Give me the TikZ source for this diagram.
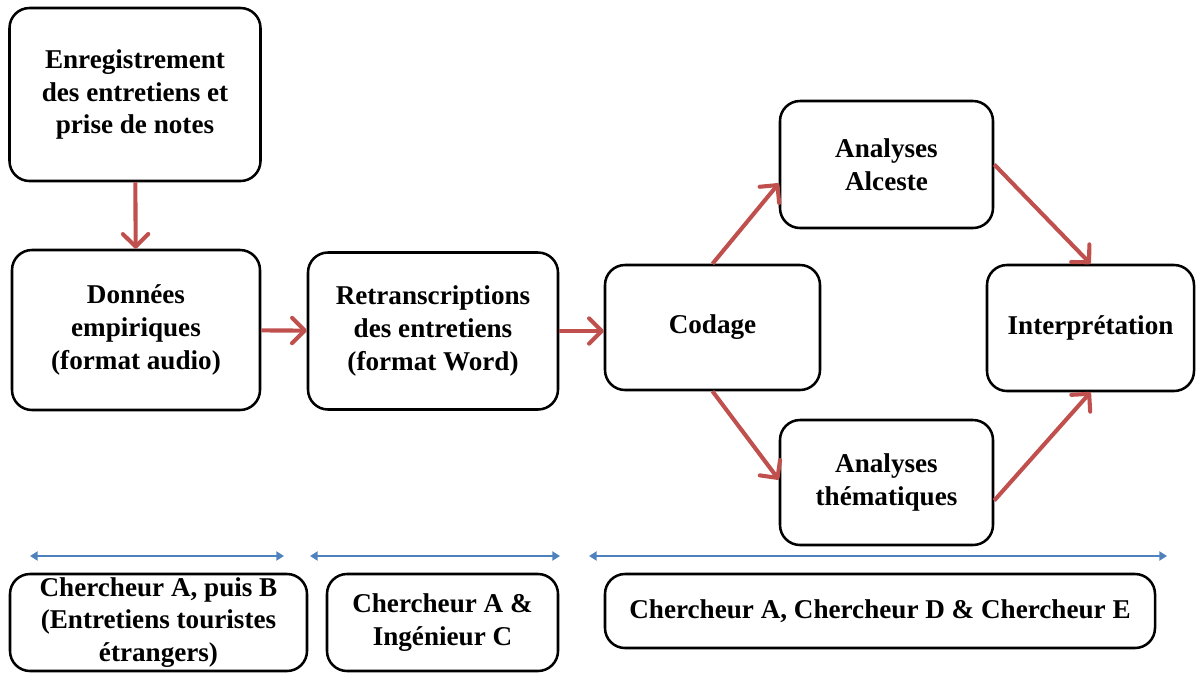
\documentclass[tikz,border=0pt]{standalone}
\usepackage{fontspec}
\setmainfont{Liberation Serif}
\usetikzlibrary{arrows.meta,calc}
\definecolor{flowred}{RGB}{192,80,77}
\definecolor{spanblue}{RGB}{79,129,189}
\tikzset{
  stepbox/.style 2 args={draw=black, line width=1.8pt, rounded corners=0.5cm,
    minimum width=#1*0.025cm, minimum height=#2*0.025cm, inner sep=0pt,
    align=center, font=\fontsize{19.3}{23.4}\selectfont\bfseries},
  flow/.style={draw=flowred, line width=2.9pt,
    -{Straight Barb[length=9pt,width=18pt,round]}},
  span/.style={draw=spanblue, line width=1.5pt,
    {Triangle[length=5.5pt,width=6.5pt]}-{Triangle[length=5.5pt,width=6.5pt]}}
}
\begin{document}
\begin{tikzpicture}[x=0.025cm, y=-0.025cm]
			%%%%% START %%%%%
			\useasboundingbox (0, 0) rectangle (1196, 673);
			
			\node[stepbox={251}{173}] (enreg) at (135, 94.5) {Enregistrement\\des entretiens et\\prise de notes};
			\node[stepbox={248}{160}] (donnees) at (136, 330) {Données\\empiriques\\(format audio)};
			\node[stepbox={250}{157}] (retrans) at (433, 331) {Retranscriptions\\des entretiens\\(format Word)};
			\node[stepbox={215}{125}] (codage) at (712.5, 327.5) {Codage};
			\node[stepbox={213}{127}] (alceste) at (886.5, 164.5) {Analyses\\Alceste};
			\node[stepbox={213}{125}] (them) at (886.5, 482.5) {Analyses\\thématiques};
			\node[stepbox={207}{126}] (interp) at (1090.5, 328) {Interprétation};
			
			\node[stepbox={297}{97}] (who1) at (158.5, 622.5) {Chercheur A, puis B\\(Entretiens touristes\\étrangers)};
			\node[stepbox={231}{97}] (who2) at (442.5, 622.5) {Chercheur A \&\\Ingénieur C};
			\node[stepbox={550}{74}] (who3) at (880, 611) {Chercheur A, Chercheur D \& Chercheur E};
			
			\draw[flow] (enreg) -- (donnees);
			\draw[flow] (donnees) -- (retrans);
			\draw[flow] (retrans.east) -- (codage.west |- retrans.east);
			\draw[flow] (codage.north) -- ($(alceste.west)+(0, 19)$);
			\draw[flow] (codage.south) -- ($(them.west)+(0, -3)$);
			\draw[flow] (alceste.east) -- (interp.north);
			\draw[flow] ($(them.east)+(0, 18)$) -- (interp.south);
			
			\coordinate (s1a) at (30, 556);
			\coordinate (s1b) at (284, 556);
			\coordinate (s2a) at (310, 556);
			\coordinate (s2b) at (560, 556);
			\coordinate (s3a) at (589, 556);
			\coordinate (s3b) at (1167, 556);
			\draw[span] (s1a) -- (s1b);
			\draw[span] (s2a) -- (s2b);
			\draw[span] (s3a) -- (s3b);
			%%%%% END %%%%%
\end{tikzpicture}
\end{document}
